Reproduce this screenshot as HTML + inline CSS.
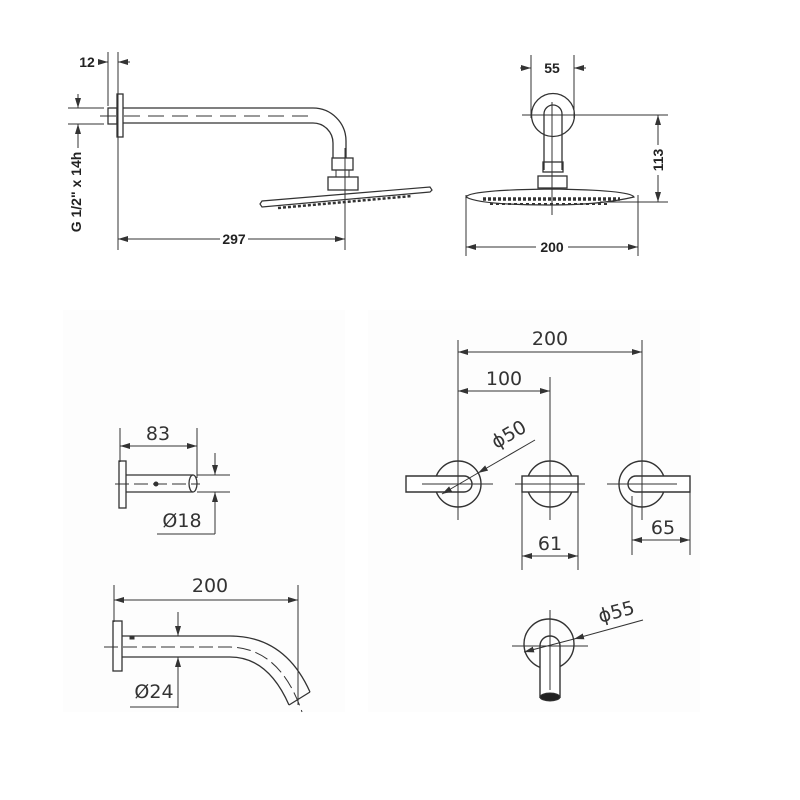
<!DOCTYPE html>
<html><head><meta charset="utf-8"><style>
html,body{margin:0;padding:0;background:#fff;}
svg{display:block;}
.b{font-family:"Liberation Sans",sans-serif;font-weight:bold;font-size:14px;fill:#222;}
.t{font-family:"DejaVu Sans","Liberation Sans",sans-serif;font-size:19px;fill:#333;}
</style></head><body>
<svg width="800" height="800" viewBox="0 0 800 800" xmlns="http://www.w3.org/2000/svg">
<defs>
<marker id="a" viewBox="0 0 10 6" refX="10" refY="3" markerWidth="10" markerHeight="6" markerUnits="userSpaceOnUse" orient="auto-start-reverse"><path d="M0,0 L10,3 L0,6 z" fill="#333"/></marker>
</defs>
<rect width="800" height="800" fill="#fff"/>
<rect x="63" y="310" width="282" height="402" fill="#fdfdfd"/>
<rect x="368" y="310" width="332" height="402" fill="#fdfdfd"/>

<g stroke="#333" stroke-width="1" fill="none">
<!-- TOP LEFT -->
<line x1="108" y1="52" x2="108" y2="106"/>
<line x1="118" y1="52" x2="118" y2="250"/>
<line x1="98" y1="62" x2="108" y2="62" marker-end="url(#a)"/>
<line x1="130" y1="62" x2="118" y2="62" marker-end="url(#a)"/>
<rect x="117" y="94" width="6" height="43" stroke-width="1.3"/>
<rect x="108" y="108" width="9" height="16" stroke-width="1.3"/>
<path d="M123 108 H313 A33 33 0 0 1 346 141 V158" stroke-width="1.3"/>
<path d="M123 123 H313 A20 20 0 0 1 333 143 V158" stroke-width="1.3"/>
<line x1="100" y1="116" x2="315" y2="116" stroke-dasharray="16,8"/>
<rect x="332" y="158" width="21" height="12" stroke-width="1.3"/>
<line x1="336" y1="170" x2="336" y2="177"/><line x1="349" y1="170" x2="349" y2="177"/>
<rect x="328" y="177" width="30" height="13" stroke-width="1.3"/>
<path d="M260 204 L262 201 L430 187 L432 190 L430 192 L262 207 Z" stroke-width="1.2"/>
<line x1="278" y1="208" x2="412" y2="196" stroke-dasharray="3,2" stroke-width="2.5"/>
<line x1="345" y1="148" x2="345" y2="250"/>
<line x1="130" y1="239" x2="118" y2="239" marker-end="url(#a)"/>
<line x1="220" y1="239" x2="130" y2="239"/>
<line x1="248" y1="239" x2="345" y2="239" marker-end="url(#a)"/>
<line x1="68" y1="108" x2="104" y2="108"/>
<line x1="68" y1="124" x2="104" y2="124"/>
<line x1="78" y1="94" x2="78" y2="108" marker-end="url(#a)"/>
<line x1="78" y1="148" x2="78" y2="124" marker-end="url(#a)"/>

<!-- TOP RIGHT -->
<line x1="531" y1="55" x2="531" y2="118"/>
<line x1="574" y1="55" x2="574" y2="118"/>
<line x1="520" y1="68" x2="531" y2="68" marker-end="url(#a)"/>
<line x1="586" y1="68" x2="574" y2="68" marker-end="url(#a)"/>
<circle cx="553" cy="115" r="21.5" stroke-width="1.3"/>
<path d="M544 170 V114 A9 9 0 0 1 562 114 V170" stroke-width="1.3"/>
<rect x="543" y="162" width="20" height="10" stroke-width="1.3"/>
<rect x="538" y="176" width="29" height="12" stroke-width="1.3"/>
<path d="M466 197 Q470 190 550 189 Q630 190 634 197 Q600 205 550 205 Q480 205 466 197 Z" stroke-width="1.2"/>
<line x1="483" y1="199" x2="620" y2="199" stroke-dasharray="3,2" stroke-width="3.5"/>
<line x1="490" y1="204" x2="610" y2="204" stroke-dasharray="3,3" stroke-width="2"/>
<line x1="522" y1="115" x2="668" y2="115"/>
<line x1="552" y1="102" x2="552" y2="215"/>
<line x1="600" y1="202" x2="668" y2="202"/>
<line x1="658" y1="145" x2="658" y2="115" marker-end="url(#a)"/>
<line x1="658" y1="175" x2="658" y2="202" marker-end="url(#a)"/>
<line x1="466" y1="195" x2="466" y2="256"/>
<line x1="638" y1="195" x2="638" y2="256"/>
<line x1="536" y1="247" x2="466" y2="247" marker-end="url(#a)"/>
<line x1="568" y1="247" x2="638" y2="247" marker-end="url(#a)"/>

<!-- MID LEFT 83 -->
<line x1="120" y1="428" x2="120" y2="462"/>
<line x1="197" y1="428" x2="197" y2="478"/>
<line x1="120" y1="446" x2="197" y2="446" marker-start="url(#a)" marker-end="url(#a)"/>
<rect x="119" y="461" width="7" height="47" stroke-width="1.3"/>
<line x1="126" y1="475" x2="193" y2="475" stroke-width="1.3"/>
<line x1="126" y1="492" x2="193" y2="492" stroke-width="1.3"/>
<ellipse cx="193" cy="483.5" rx="4" ry="8.5" stroke-width="1.3"/>
<line x1="115" y1="484" x2="200" y2="484" stroke-dasharray="14,5"/>
<circle cx="156" cy="484" r="2" fill="#333"/>
<line x1="197" y1="475" x2="230" y2="475"/>
<line x1="197" y1="492" x2="230" y2="492"/>
<line x1="215" y1="453" x2="215" y2="475" marker-end="url(#a)"/>
<line x1="215" y1="534" x2="215" y2="492" marker-end="url(#a)"/>
<line x1="157" y1="534" x2="215" y2="534"/>

<!-- SPOUT -->
<line x1="114" y1="585" x2="114" y2="622"/>
<line x1="298" y1="585" x2="298" y2="705"/>
<line x1="114" y1="600" x2="298" y2="600" marker-start="url(#a)" marker-end="url(#a)"/>
<rect x="113" y="621" width="9" height="50" stroke-width="1.3"/>
<path d="M122 636 H230 Q285 636 310 692" stroke-width="1.3"/>
<path d="M122 657 H230 Q268 657 289 705" stroke-width="1.3"/>
<path d="M289 705 L310 692" stroke-width="1.3"/>
<path d="M104 647 H230 Q280 648 302 712" stroke-dasharray="14,5"/>
<rect x="130" y="636" width="4" height="3" fill="#333"/>
<line x1="178" y1="612" x2="178" y2="636" marker-end="url(#a)"/>
<line x1="178" y1="708" x2="178" y2="657" marker-end="url(#a)"/>
<line x1="130" y1="707" x2="178" y2="707"/>

<!-- HANDLES -->
<line x1="458" y1="340" x2="458" y2="520"/>
<line x1="550" y1="377" x2="550" y2="520"/>
<line x1="642" y1="340" x2="642" y2="520"/>
<line x1="458" y1="352" x2="642" y2="352" marker-start="url(#a)" marker-end="url(#a)"/>
<line x1="458" y1="391" x2="550" y2="391" marker-start="url(#a)" marker-end="url(#a)"/>
<circle cx="458" cy="484" r="23" stroke-width="1.4"/>
<circle cx="550" cy="484" r="23" stroke-width="1.4"/>
<circle cx="642" cy="484" r="23" stroke-width="1.4"/>
<path d="M406 476 H464 A8 8 0 0 1 464 492 H406 Z" fill="#fff" stroke-width="1.4"/>
<rect x="522" y="476" width="56" height="16" fill="#fff" stroke-width="1.4"/>
<path d="M690 476 H636 A8 8 0 0 0 636 492 H690 Z" fill="#fff" stroke-width="1.4"/>
<line x1="422" y1="484" x2="493" y2="484"/>
<line x1="515" y1="484" x2="585" y2="484"/>
<line x1="607" y1="484" x2="677" y2="484"/>
<line x1="458" y1="460" x2="458" y2="520"/>
<line x1="550" y1="460" x2="550" y2="520"/>
<line x1="642" y1="460" x2="642" y2="520"/>
<line x1="535" y1="440" x2="478" y2="473" marker-end="url(#a)"/>
<line x1="478" y1="473" x2="442" y2="494" marker-end="url(#a)"/>
<line x1="522" y1="492" x2="522" y2="570"/>
<line x1="578" y1="492" x2="578" y2="570"/>
<line x1="522" y1="556" x2="578" y2="556" marker-start="url(#a)" marker-end="url(#a)"/>
<line x1="632" y1="496" x2="632" y2="555"/>
<line x1="690" y1="492" x2="690" y2="555"/>
<line x1="632" y1="540" x2="690" y2="540" marker-start="url(#a)" marker-end="url(#a)"/>

<!-- BOTTOM RIGHT SPOUT -->
<circle cx="549" cy="644" r="25" stroke-width="1.4"/>
<path d="M540 698 V646 A10 10 0 0 1 560 646 V698" fill="#fff" stroke-width="1.4"/>
<ellipse cx="550" cy="697" rx="10" ry="4" fill="#222"/>
<line x1="512" y1="646" x2="588" y2="646"/>
<line x1="550" y1="610" x2="550" y2="690"/>
<line x1="643" y1="620" x2="574" y2="639" marker-end="url(#a)"/>
<line x1="574" y1="639" x2="524" y2="652" marker-end="url(#a)"/>
</g>

<!-- TEXT -->
<text class="b" x="87" y="67" text-anchor="middle">12</text>
<text class="b" x="0" y="0" text-anchor="middle" transform="translate(81,192) rotate(-90)">G 1/2" x 14h</text>
<text class="b" x="234" y="244" text-anchor="middle">297</text>
<text class="b" x="552" y="73" text-anchor="middle">55</text>
<text class="b" x="0" y="0" text-anchor="middle" transform="translate(663,160) rotate(-90)">113</text>
<text class="b" x="552" y="252" text-anchor="middle">200</text>

<text class="t" x="158" y="440" text-anchor="middle">83</text>
<text class="t" x="182" y="527" text-anchor="middle">Ø18</text>
<text class="t" x="210" y="592" text-anchor="middle">200</text>
<text class="t" x="154" y="698" text-anchor="middle">Ø24</text>
<text class="t" x="550" y="345" text-anchor="middle">200</text>
<text class="t" x="504" y="385" text-anchor="middle">100</text>
<text class="t" x="0" y="0" text-anchor="middle" transform="translate(512,440) rotate(-30)">ϕ50</text>
<text class="t" x="550" y="550" text-anchor="middle">61</text>
<text class="t" x="663" y="534" text-anchor="middle">65</text>
<text class="t" x="0" y="0" text-anchor="middle" transform="translate(618,618) rotate(-15)">ϕ55</text>
</svg>
</body></html>
